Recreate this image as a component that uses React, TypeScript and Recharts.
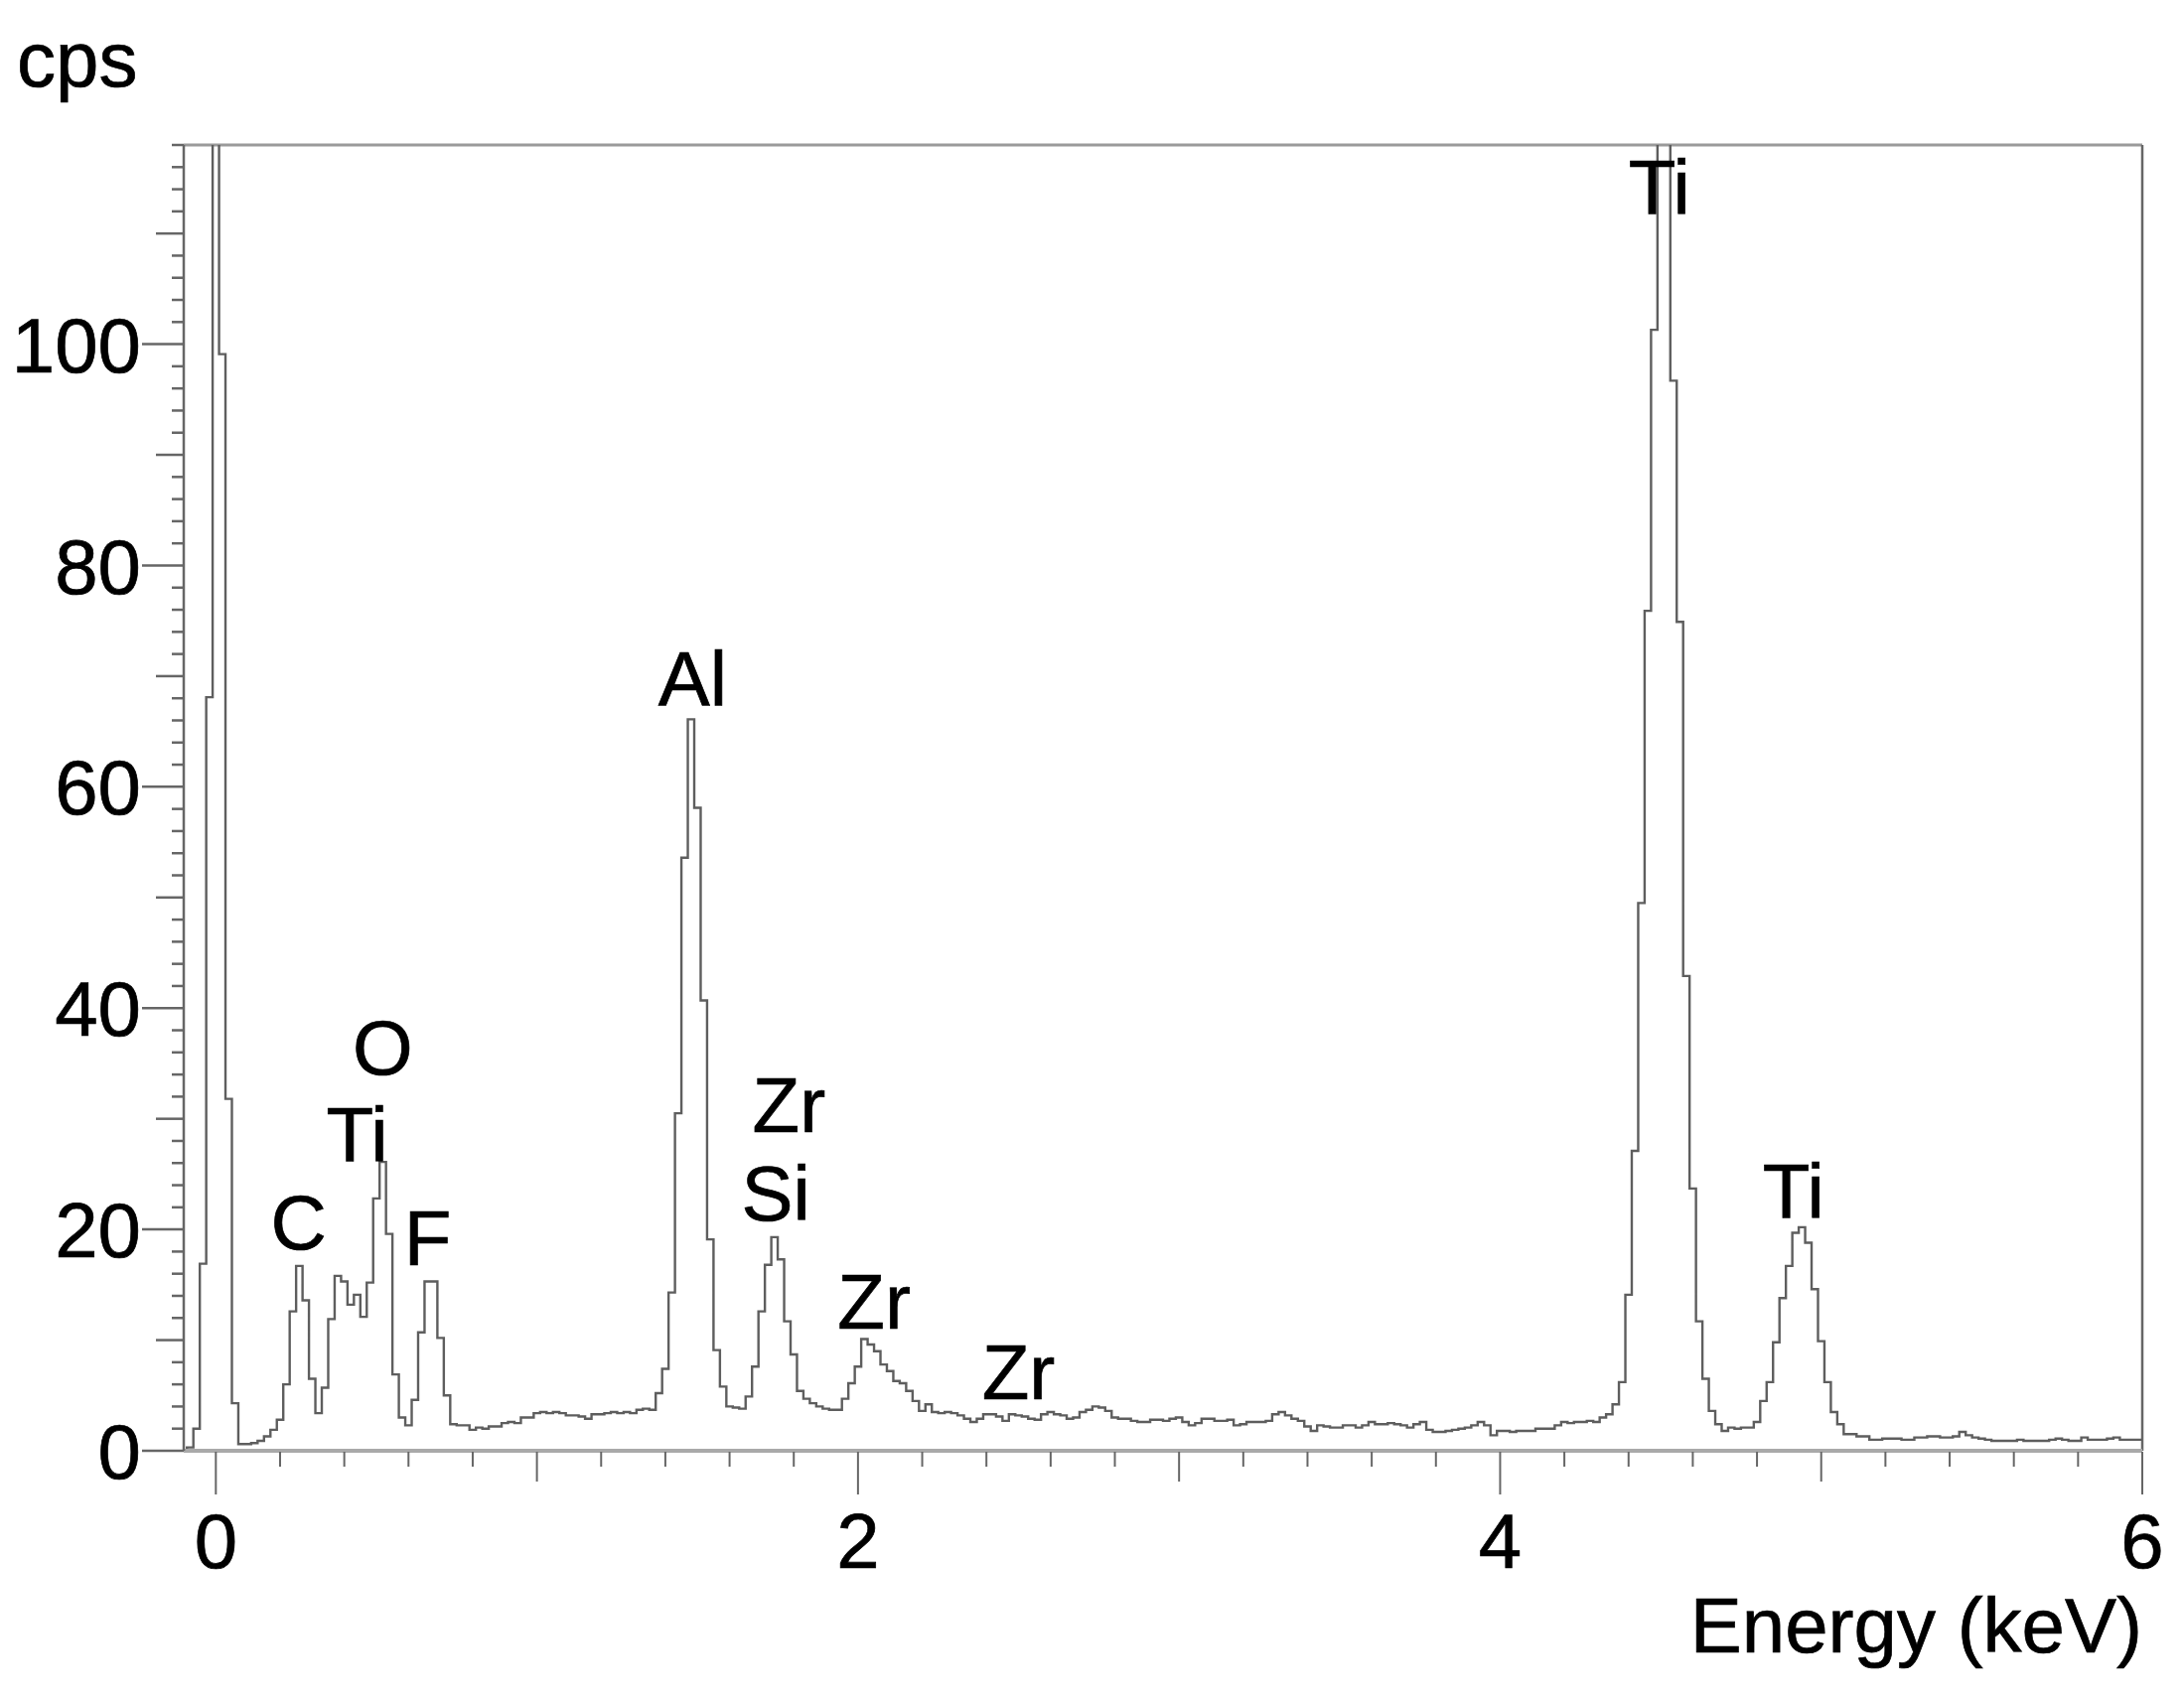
import { LineChart, Line, XAxis, YAxis, ReferenceLine, ReferenceDot } from "recharts";

const FONT = '"Liberation Sans", Arial, Helvetica, sans-serif';
const TEXT = "#000";
const TRACE = "#5e5e5e";
const FRAME = "#666";
const FS = 78;

const X_MIN = -0.1;
const X_MAX = 6;
const Y_MAX = 118;
const KEV_STEP = 0.02;

// tick marks: every 0.2 keV on x, every 2 cps on y
const X_TICKS = Array.from({ length: 31 }, (_, i) => +(i * 0.2).toFixed(1));
const Y_TICKS = Array.from({ length: 60 }, (_, i) => i * 2);
const Y_LABELS = [0, 20, 40, 60, 80, 100];

// cps per 20 eV channel, first channel at -0.10 keV, one row = 0.2 keV
const COUNTS = [
  0, 0.3, 2.0, 16.9, 68.1, 420, 99.1, 31.8, 4.3, 0.6, // -0.10
  0.6, 0.7, 0.9, 1.3, 1.9, 2.8, 6.0, 12.6, 16.7, 13.6, // 0.10
  6.5, 3.4, 5.7, 11.9, 15.8, 15.3, 13.2, 14.1, 12.1, 15.2, // 0.30
  22.8, 26.1, 19.6, 6.9, 3.0, 2.3, 4.6, 10.7, 15.3, 15.3, // 0.50
  10.2, 5.0, 2.4, 2.3, 2.3, 1.9, 2.1, 2.0, 2.2, 2.2, // 0.70
  2.5, 2.6, 2.5, 3.0, 3.0, 3.4, 3.5, 3.4, 3.5, 3.4, // 0.90
  3.2, 3.2, 3.1, 2.9, 3.3, 3.3, 3.4, 3.5, 3.4, 3.5, // 1.10
  3.4, 3.7, 3.8, 3.7, 5.2, 7.4, 14.3, 30.5, 53.6, 66.1, // 1.30
  58.1, 40.7, 19.1, 9.1, 5.8, 4.0, 3.9, 3.8, 4.9, 7.6, // 1.50
  12.6, 16.8, 19.3, 17.3, 11.7, 8.7, 5.4, 4.7, 4.3, 4.0, // 1.70
  3.8, 3.7, 3.7, 4.7, 6.1, 7.6, 10.1, 9.6, 9.0, 7.8, // 1.90
  7.2, 6.3, 6.1, 5.4, 4.5, 3.6, 4.2, 3.5, 3.4, 3.5, // 2.10
  3.4, 3.2, 2.9, 2.6, 2.9, 3.3, 3.3, 3.1, 2.7, 3.3, // 2.30
  3.2, 3.1, 2.9, 2.8, 3.3, 3.5, 3.3, 3.2, 2.9, 3.0, // 2.50
  3.5, 3.7, 4.0, 3.9, 3.6, 3.0, 2.9, 2.9, 2.7, 2.6, // 2.70
  2.6, 2.8, 2.8, 2.7, 2.9, 3.0, 2.6, 2.3, 2.5, 2.9, // 2.90
  2.9, 2.7, 2.7, 2.8, 2.3, 2.4, 2.6, 2.6, 2.6, 2.7, // 3.10
  3.3, 3.5, 3.2, 2.9, 2.7, 2.2, 1.8, 2.3, 2.2, 2.1, // 3.30
  2.1, 2.3, 2.3, 2.1, 2.3, 2.6, 2.4, 2.4, 2.5, 2.4, // 3.50
  2.3, 2.1, 2.4, 2.6, 1.9, 1.7, 1.7, 1.8, 1.9, 2.0, // 3.70
  2.1, 2.3, 2.6, 2.3, 1.4, 1.8, 1.8, 1.7, 1.8, 1.8, // 3.90
  1.8, 2.0, 2.0, 2.0, 2.3, 2.6, 2.5, 2.6, 2.6, 2.7, // 4.10
  2.6, 3.0, 3.3, 4.2, 6.2, 14.1, 27.1, 49.5, 75.9, 101.3, // 4.30
  165, 150, 96.7, 74.9, 42.9, 23.7, 11.7, 6.5, 3.6, 2.4, // 4.50
  1.8, 2.1, 2.0, 2.1, 2.1, 2.6, 4.5, 6.2, 9.8, 13.8, // 4.70
  16.7, 19.7, 20.2, 18.8, 14.6, 9.9, 6.2, 3.5, 2.4, 1.5, // 4.90
  1.5, 1.3, 1.3, 1.0, 1.0, 1.1, 1.1, 1.1, 1.0, 1.0, // 5.10
  1.2, 1.2, 1.3, 1.3, 1.2, 1.2, 1.3, 1.7, 1.4, 1.2, // 5.30
  1.1, 1.0, 0.9, 0.9, 0.9, 0.9, 1.0, 0.9, 0.9, 0.9, // 5.50
  0.9, 1.0, 1.1, 1.0, 0.9, 0.9, 1.2, 1.0, 1.0, 1.0, // 5.70
  1.1, 1.2, 1.0, 1.0, 1.0, 1.0, // 5.90
];

// peak labels: element, energy (keV) and cps of the text baseline
const PEAK_NAMES = ["C", "Ti", "O", "F", "Al", "Zr", "Si", "Zr", "Zr", "Ti", "Ti"];
const PEAK_KEV = [0.258, 0.44, 0.52, 0.66, 1.485, 1.785, 1.744, 2.05, 2.5, 4.496, 4.914];
const PEAK_CPS = [18.2, 26.1, 34.0, 16.8, 67.3, 28.8, 20.8, 11.0, 4.7, 111.7, 21.0];

const data = COUNTS.map((v, i) => ({ kev: +(X_MIN + i * KEV_STEP).toFixed(2), cps: v }));

const textStyle = {
  fontSize: FS,
  fontFamily: FONT,
  fill: TEXT,
  stroke: TEXT,
  strokeWidth: 0.7,
};

const XTick = (props: any) => {
  const { x, y, payload } = props;
  const n = Math.round(payload.value * 5);
  const whole = n % 5 === 0;
  const even = whole && (n / 5) % 2 === 0;
  const len = even ? 44 : whole ? 31 : 16;
  return (
    <g>
      <line x1={x} x2={x} y1={y + 1} y2={y + len} stroke={FRAME} strokeWidth={2} />
      {even && (
        <text x={x} y={y + 118} textAnchor="middle" style={textStyle}>
          {n / 5}
        </text>
      )}
    </g>
  );
};

const YTick = (props: any) => {
  const { x, y, payload } = props;
  const v = payload.value as number;
  const len = v % 20 === 0 ? 42 : v % 10 === 0 ? 28 : 12;
  return (
    <g>
      <line x1={x} x2={x - len} y1={y} y2={y} stroke={FRAME} strokeWidth={2.5} />
      {Y_LABELS.includes(v) && (
        <text x={x - 43} y={y} dy="0.36em" textAnchor="end" style={textStyle}>
          {v}
        </text>
      )}
    </g>
  );
};

export default function App() {
  return (
    <LineChart width={2180} height={1690} data={data} margin={{ top: 138, right: 31, bottom: 0, left: 0 }}>
      <XAxis
        type="number"
        dataKey="kev"
        domain={[X_MIN, X_MAX]}
        ticks={X_TICKS}
        interval={0}
        allowDataOverflow
        height={237}
        tickSize={0}
        tickMargin={0}
        tickLine={false}
        axisLine={{ stroke: "#a9a9a9", strokeWidth: 4 }}
        tick={XTick}
        label={{
          content: (p: any) => (
            <text x={p.viewBox.x + p.viewBox.width} y={p.viewBox.y + 203} textAnchor="end" style={textStyle}>
              Energy (keV)
            </text>
          ),
        }}
      />
      <YAxis
        type="number"
        domain={[0, Y_MAX]}
        ticks={Y_TICKS}
        interval={0}
        allowDataOverflow
        width={177}
        tickSize={0}
        tickMargin={0}
        tickLine={false}
        axisLine={{ stroke: FRAME, strokeWidth: 2.5 }}
        tick={YTick}
        label={{
          content: (p: any) => (
            <text x={p.viewBox.x + 9} y={p.viewBox.y - 59} style={textStyle}>
              cps
            </text>
          ),
        }}
      />
      <ReferenceLine y={Y_MAX} stroke="#9a9a9a" strokeWidth={3} />
      <ReferenceLine x={X_MAX} stroke={FRAME} strokeWidth={2.5} />
      <Line
        type="step"
        dataKey="cps"
        stroke={TRACE}
        strokeWidth={2.4}
        dot={false}
        activeDot={false}
        isAnimationActive={false}
      />
      {PEAK_NAMES.map((name, i) => (
        <ReferenceDot
          key={i}
          x={PEAK_KEV[i]}
          y={PEAK_CPS[i]}
          r={0}
          shape={(p: any) => (
            <text x={p.cx} y={p.cy} textAnchor="middle" style={textStyle}>
              {name}
            </text>
          )}
        />
      ))}
    </LineChart>
  );
}
